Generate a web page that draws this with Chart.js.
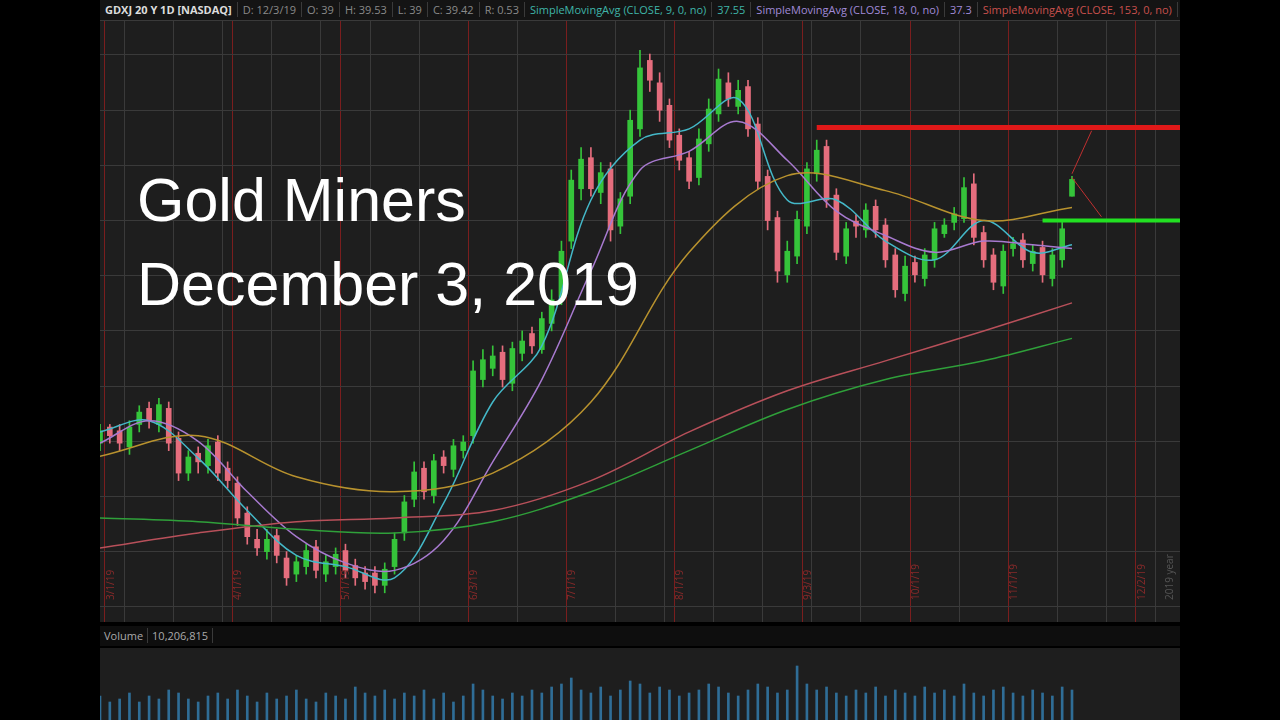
<!DOCTYPE html>
<html><head><meta charset="utf-8">
<script src="https://cdn.jsdelivr.net/npm/chart.js@4/dist/chart.umd.min.js"></script>
<style>
body{margin:0;width:1280px;height:720px;background:#000;overflow:hidden;font-family:"Open Sans",sans-serif;position:relative}
#hdr{position:absolute;left:100px;top:0;width:1080px;height:20px;background:#141414;color:#8a8a8a;font-size:11px;line-height:20px;white-space:nowrap;overflow:hidden}
#hdr span{padding:0 5px;border-right:1px solid #3a3a3a}
#main{position:absolute;left:100px;top:20px;width:1080px;height:602px;background:#1e1e1e}
#title{position:absolute;left:137px;top:158px;color:#fff;font-family:"Liberation Sans",Arial,sans-serif;font-size:61px;line-height:84px}
#vlab{position:absolute;left:100px;top:626px;width:1080px;height:20px;background:#0e0e0e;color:#aaa;font-size:11px;line-height:20px}
#vlab span{padding:0 4px;border-right:1px solid #3a3a3a}
#vol{position:absolute;left:100px;top:648px;width:1080px;height:72px;background:#1e1e1e}
</style></head><body>
<div id="hdr"><span style="color:#ddd;font-weight:bold">GDXJ 20 Y 1D [NASDAQ]</span><span>D: 12/3/19</span><span>O: 39</span><span>H: 39.53</span><span>L: 39</span><span>C: 39.42</span><span>R: 0.53</span><span style="color:#3fb4a8">SimpleMovingAvg (CLOSE, 9, 0, no)</span><span style="color:#3fb4a8">37.55</span><span style="color:#a08ad8">SimpleMovingAvg (CLOSE, 18, 0, no)</span><span style="color:#a08ad8">37.3</span><span style="color:#c8504d">SimpleMovingAvg (CLOSE, 153, 0, no)</span><span style="color:#c8504d">35.99</span><span style="color:#d08a30">Simp</span></div>
<div id="main"><canvas id="c"></canvas></div>
<div id="title">Gold Miners<br>December 3, 2019</div>
<div id="vlab"><span>Volume</span><span>10,206,815</span></div>
<div id="vol"><canvas id="v"></canvas></div>
<script>
const closes=[32.7,32.6,32.4,32.8,33.2,33.0,33.4,32.4,31.6,32.0,31.9,32.3,31.6,31.4,30.4,29.9,29.6,29.8,29.4,28.8,29.2,29.5,29.0,29.2,29.4,29.0,28.8,28.7,28.6,29.0,29.8,30.8,31.6,31.1,31.9,31.8,32.3,32.4,34.3,34.6,34.7,34.1,34.9,35.1,35.0,35.7,36.2,37.5,39.4,39.96,39.2,39.6,38.1,38.9,41.0,42.4,42.1,41.3,40.5,39.96,39.4,40.5,41.3,42.1,41.6,41.8,40.8,39.4,38.35,37.0,37.5,38.35,39.7,40.2,38.9,37.5,38.1,38.2,38.6,38.1,37.3,36.5,37.1,36.9,37.4,38.1,38.2,38.5,39.2,37.9,37.3,36.7,37.5,37.7,37.3,37.5,36.9,37.4,38.1,39.42];
const opens=[32.4,32.8,32.7,32.3,32.9,33.3,32.9,33.3,32.5,31.6,32.1,31.8,32.4,31.7,31.3,30.5,29.8,29.5,29.9,29.3,28.9,29.1,29.6,28.9,29.1,29.5,29.1,28.9,28.9,28.6,29.1,30.0,30.9,31.7,31.0,32.0,31.7,32.2,32.6,34.1,34.4,34.8,34.0,34.8,35.3,34.9,35.6,36.3,37.8,39.2,40.0,39.1,39.7,38.2,39.0,40.8,42.6,42.0,41.4,40.6,40.0,39.5,40.4,41.2,42.0,41.4,41.9,40.9,39.5,38.4,36.9,37.4,38.2,39.6,40.3,39.0,37.4,38.3,38.1,38.7,38.2,37.4,36.4,37.2,36.8,37.3,38.0,38.3,38.4,39.3,38.0,37.4,36.6,37.6,37.8,37.2,37.6,36.8,37.3,39.0];
const highs=[32.9,32.9,32.9,33.0,33.4,33.5,33.6,33.5,32.7,32.2,32.3,32.5,32.6,31.9,31.5,30.7,30.1,30.1,30.1,29.5,29.4,29.7,29.8,29.4,29.6,29.7,29.3,29.1,29.1,29.2,30.0,31.0,31.9,31.9,32.1,32.2,32.5,32.6,34.6,34.9,35.0,35.0,35.1,35.4,35.5,35.9,36.5,37.8,39.7,40.3,40.3,39.9,39.9,39.1,41.3,42.9,42.8,42.3,41.6,40.8,40.2,40.8,41.6,42.4,42.3,42.1,42.1,41.1,39.7,38.6,37.8,38.6,39.9,40.5,40.5,39.2,38.3,38.5,38.8,38.9,38.4,37.6,37.4,37.4,37.6,38.3,38.4,38.7,39.5,39.6,38.2,37.6,37.7,37.9,38.0,37.7,37.8,37.6,38.3,39.53];
const lows=[32.2,32.4,32.2,32.1,32.7,32.8,32.7,32.2,31.4,31.4,31.6,31.6,31.4,31.2,30.2,29.7,29.4,29.3,29.2,28.6,28.7,28.9,28.8,28.7,28.9,28.8,28.6,28.5,28.4,28.4,28.9,29.8,30.7,30.9,30.8,31.6,31.5,32.0,32.4,33.9,34.2,33.9,33.8,34.6,34.8,34.8,35.4,36.1,37.6,38.9,39.0,38.8,37.8,38.0,38.8,40.6,41.8,41.0,40.3,39.7,39.2,39.3,40.2,41.0,41.4,41.2,40.6,39.2,38.1,36.7,36.7,37.2,38.0,39.4,38.7,37.3,37.2,37.9,37.9,37.9,37.1,36.3,36.2,36.7,36.6,37.1,37.9,38.1,38.3,37.7,37.1,36.5,36.4,37.4,37.1,37.0,36.7,36.6,37.1,39.0];
const volumes=[8,6,7,9,6,8,7,10,9,7,6,8,9,7,10,8,6,9,7,8,10,7,6,9,8,7,11,9,8,10,7,9,8,10,7,9,6,8,12,10,8,7,9,8,10,9,11,12,14,10,9,11,8,10,13,12,9,11,10,8,9,10,12,11,9,8,10,12,11,9,10,18,12,10,11,9,8,10,9,11,8,10,9,8,11,9,10,8,12,9,8,10,11,9,8,10,9,8,11,10];
// moving averages (every 5th / 10th bar)
const sma9={0:32.7,5:33.0,10:32.0,15:30.6,20:29.4,25:29.1,30:28.8,35:30.8,40:33.5,45:35.0,50:38.9,55:40.5,60:40.8,65:41.6,70:38.9,75:38.9,80:37.8,85:37.3,90:38.35,95:37.5,99:37.7};
const sma18={0:32.4,5:33.0,10:32.45,15:31.1,20:29.9,25:29.2,30:29.0,35:29.8,40:31.9,45:34.1,50:37.0,55:39.7,60:40.2,65:41.0,70:39.96,75:38.6,80:37.95,85:37.5,90:37.8,95:37.7,99:37.6};
const smaOrange={0:32.05,10:32.6,20:31.5,30:31.1,40:31.6,50:33.5,60:37.5,70:39.55,80:39.15,90:38.35,99:38.7};
const sma153={0:29.6,10:30.0,20:30.3,30:30.4,40:30.6,50:31.4,60:32.7,70:33.8,80:34.6,90:35.4,99:36.15};
const smaGreen={0:30.4,10:30.3,20:30.1,30:30.0,40:30.3,50:31.1,60:32.2,70:33.3,80:34.1,90:34.6,99:35.2};
const resistance=40.84, support=38.35;
const months=[[1,"3/1/19"],[14,"4/1/19"],[25,"5/1/19"],[38,"6/3/19"],[48,"7/1/19"],[59,"8/1/19"],[72,"9/3/19"],[83,"10/1/19"],[93,"11/1/19"],[106,"12/2/19"]];

const N=111;
const labels=[...Array(N).keys()];
const pad=a=>labels.map(i=>i<a.length?a[i]:null);
const sparse=o=>labels.map(i=>o[i]!==undefined?o[i]:null);
const up=i=>closes[i]>=opens[i];
const col=labels.map(i=>i<closes.length?(up(i)?'#35c43a':'#e56d7d'):'transparent');
const monthIdx=months.map(m=>m[0]);
const lineDs=(d,c,w)=>({type:'line',data:d,borderColor:c,borderWidth:w||1.5,pointRadius:0,spanGaps:true,tension:0.35,order:0});
const monthPlugin={id:'months',afterDraw(ch){const c=ch.ctx,x=ch.scales.x,a=ch.chartArea;c.save();c.fillStyle='#8a2a2a';c.font='10px "Open Sans"';
 months.forEach(([i,t])=>{c.save();c.translate(x.getPixelForValue(i)+4,a.bottom-22);c.rotate(-Math.PI/2);c.fillText(t,0,0);c.restore();});
 c.save();c.fillStyle='#555';c.translate(x.getPixelForValue(109)+3,a.bottom-22);c.rotate(-Math.PI/2);c.fillText('2019 year',0,0);c.restore();c.restore();}};
new Chart(document.getElementById('c'),{
 data:{labels,datasets:[
  {type:'line',data:labels.map(i=>i>=73?resistance:null),borderColor:'#e01818',borderWidth:5,pointRadius:0,order:-1},
  {type:'line',data:labels.map(i=>i>=96?support:null),borderColor:'#22e022',borderWidth:4,pointRadius:0,order:-1},
  {type:'line',data:labels.map(i=>i===99?39.6:(i===101?40.75:null)),borderColor:'#c03030',borderWidth:1,pointRadius:0,spanGaps:true,order:-1},
  {type:'line',data:labels.map(i=>i===99?39.5:(i===102?38.45:null)),borderColor:'#c03030',borderWidth:1,pointRadius:0,spanGaps:true,order:-1},
  lineDs(sparse(smaGreen),'#2fa03a'),
  lineDs(sparse(sma153),'#b8505a'),
  lineDs(sparse(smaOrange),'#b8922e'),
  lineDs(sparse(sma18),'#a87ad0'),
  lineDs(sparse(sma9),'#44b8c8'),
  {type:'bar',data:labels.map(i=>i<lows.length?[lows[i],highs[i]]:null),backgroundColor:col,barThickness:1,grouped:false,order:2},
  {type:'bar',data:labels.map(i=>i<opens.length?[Math.min(opens[i],closes[i]),Math.max(opens[i],closes[i])+0.03]:null),backgroundColor:col,barThickness:5,grouped:false,order:1}
 ]},
 options:{responsive:true,maintainAspectRatio:false,animation:false,layout:{padding:0},
  plugins:{legend:{display:false},tooltip:{enabled:false}},
  scales:{
   x:{ticks:{display:false,autoSkip:false},border:{display:false},offset:false,
      grid:{drawTicks:false,color:c=>monthIdx.includes(c.index)?'#7a1e1e':(c.index%5===3?'#3a3a3a':'transparent'),lineWidth:1}},
   y:{min:27.62,max:43.71,ticks:{display:false,stepSize:1.475},border:{display:false},grid:{drawTicks:false,color:'#3a3a3a'}}
  }},
 plugins:[monthPlugin]
});
new Chart(document.getElementById('v'),{type:'bar',
 data:{labels,datasets:[{data:pad(volumes),backgroundColor:'#2f6d96',barThickness:2}]},
 options:{responsive:true,maintainAspectRatio:false,animation:false,plugins:{legend:{display:false},tooltip:{enabled:false}},
  scales:{x:{display:false,offset:false},y:{display:false,min:0,max:24}}}});
</script>
</body></html>
